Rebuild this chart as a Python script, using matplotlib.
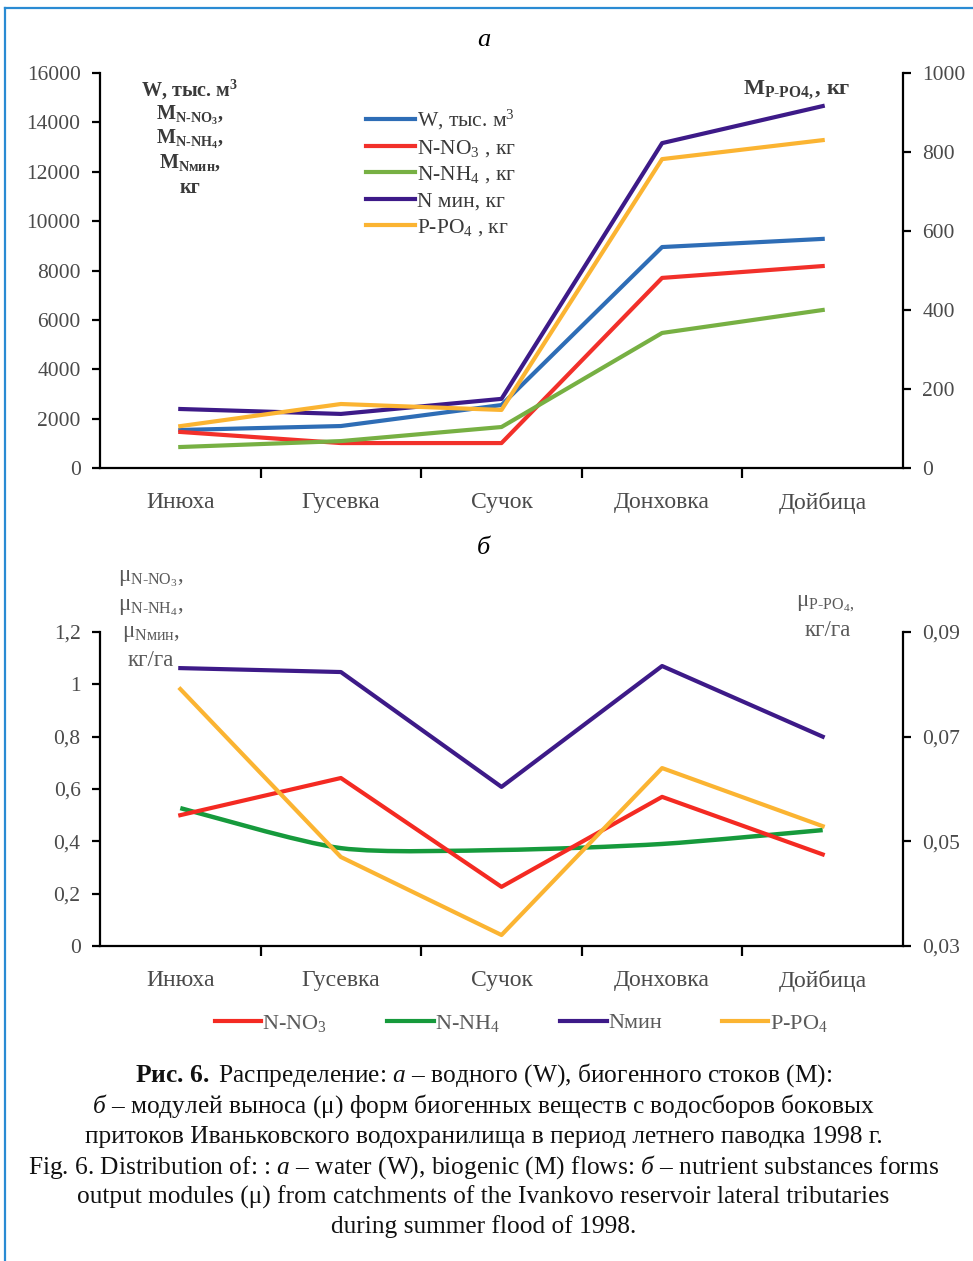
import matplotlib.pyplot as plt
import numpy as np
from matplotlib.lines import Line2D
from matplotlib.path import Path
from matplotlib.patches import PathPatch
from matplotlib.ticker import FuncFormatter

plt.rcParams['font.family'] = ['Liberation Serif', 'DejaVu Serif']
plt.rcParams['mathtext.fontset'] = 'custom'
plt.rcParams['mathtext.rm'] = 'Liberation Serif'
plt.rcParams['mathtext.it'] = 'Liberation Serif:italic'
plt.rcParams['mathtext.bf'] = 'Liberation Serif:bold'

rivers = ['Инюха', 'Гусевка', 'Сучок', 'Донховка', 'Дойбица']

# a: water flow (thous. m3) and nutrient flow (kg)
w_flow = [1540, 1700, 2550, 8950, 9280]
m_no3 = [1460, 1010, 1010, 7700, 8180]
m_nh4 = [850, 1090, 1660, 5470, 6400]
m_nmin = [2390, 2190, 2800, 13160, 14660]
m_po4 = [106, 162, 147, 782, 830]

# b: output modules (kg/ha)
mu_no3 = [0.50, 0.642, 0.226, 0.57, 0.35]
mu_nh4 = [0.527, 0.374, 0.367, 0.39, 0.443]
mu_nmin = [1.062, 1.047, 0.608, 1.07, 0.80]
mu_po4 = [0.0791, 0.0470, 0.0321, 0.0640, 0.0529]

ticks_a_left = [0, 2000, 4000, 6000, 8000, 10000, 12000, 14000, 16000]
ticks_a_right = [0, 200, 400, 600, 800, 1000]
ticks_b_left = [0, 0.2, 0.4, 0.6, 0.8, 1.0, 1.2]
ticks_b_right = [0.03, 0.05, 0.07, 0.09]

W, H = 973, 1261
def fx(px):
    return px / W
def fy(py):
    return 1 - py / H

TICKC = '#4a4a4a'
LABC = '#3a3a3a'
MUC = '#5a5a5a'
comma = FuncFormatter(lambda v, p: f'{v:g}'.replace('.', ','))

def style(ax, axr):
    for a in (ax, axr):
        a.spines['top'].set_visible(False)
        for s in a.spines.values():
            s.set_linewidth(1.6)
    ax.spines['right'].set_visible(False)
    axr.spines['left'].set_visible(False)
    axr.spines['bottom'].set_visible(False)
    x = np.arange(len(rivers))
    ax.set_xlim(-0.5, len(rivers) - 0.5)
    ax.set_xticks(x)
    ax.set_xticklabels(rivers, fontsize=17, color=TICKC)
    ax.set_xticks(x[:-1] + 0.5, minor=True)
    ax.tick_params(axis='x', which='major', length=0, pad=17)
    ax.tick_params(axis='x', which='minor', length=7, width=1.6, direction='out')
    ax.tick_params(axis='y', length=6, width=1.6, labelsize=15.5, labelcolor=TICKC, pad=8)
    axr.tick_params(axis='y', length=6, width=1.6, labelsize=15.5, labelcolor=TICKC, pad=8)

fig = plt.figure(figsize=(W / 100, H / 100), dpi=100)

# ---- chart a ----
ax1 = fig.add_axes([fx(100), fy(468), fx(903) - fx(100), fy(73) - fy(468)])
ax1r = ax1.twinx()
x = np.arange(len(rivers))
ax1.plot(x, w_flow, color='#2e6db6', lw=3, label='W, тыс. м$^3$')
ax1.plot(x, m_no3, color='#f2302a', lw=3, label='N-NO$_3$ , кг')
ax1.plot(x, m_nh4, color='#77b043', lw=3, label='N-NH$_4$ , кг')
ax1.plot(x, m_nmin, color='#3d1a88', lw=3, label='N мин, кг')
ax1r.plot(x, m_po4, color='#fbb432', lw=3, label='P-PO$_4$ , кг')
ax1.set_ylim(0, 16000)
ax1r.set_ylim(0, 1000)
ax1.set_yticks(ticks_a_left)
ax1r.set_yticks(ticks_a_right)
style(ax1, ax1r)

h1, l1 = ax1.get_legend_handles_labels()
h2, l2 = ax1r.get_legend_handles_labels()
fig.legend(h1 + h2, l1 + l2, loc='upper left', bbox_to_anchor=(fx(355), fy(97)),
           frameon=False, fontsize=15.5, handlelength=2.3, handletextpad=0.1,
           labelspacing=0.27, labelcolor=LABC, borderpad=0)

fig.text(0.497, fy(40), 'а', style='italic', fontsize=19, ha='center', va='center')
lab_a = [r'W, тыс. м$^\mathbf{3}$',
         r'$\mathbf{M}_{\mathbf{N\text{-}NO_3}}$,',
         r'$\mathbf{M}_{\mathbf{N\text{-}NH_4}}$,',
         r'$\mathbf{M}_{\mathbf{Nмин}}$,',
         'кг']
for s, py in zip(lab_a, [90, 115, 139, 163, 188]):
    fig.text(fx(190), fy(py), s, fontsize=14.5, fontweight='bold', color=LABC,
             ha='center', va='center')
fig.text(fx(797), fy(90), r'$\mathbf{M}_{\mathbf{P\text{-}PO4,}}$, кг', fontsize=16,
         fontweight='bold', color=LABC, ha='center', va='center')

# ---- chart b ----
ax2 = fig.add_axes([fx(100), fy(946), fx(903) - fx(100), fy(632) - fy(946)])
ax2r = ax2.twinx()
ax2.plot(x, mu_no3, color='#f42a22', lw=3)
ax2.plot(x, mu_nmin, color='#3d1a88', lw=3)

# smoothed line for N-NH4 (Catmull-Rom as cubic Bezier)
p = np.column_stack([x, mu_nh4]).astype(float)
pe = np.vstack([p[0], p, p[-1]])
verts = [p[0]]
codes = [Path.MOVETO]
for i in range(len(p) - 1):
    a0, a1, a2, a3 = pe[i], pe[i + 1], pe[i + 2], pe[i + 3]
    verts += [a1 + (a2 - a0) / 8, a2 - (a3 - a1) / 8, a2]
    codes += [Path.CURVE4] * 3
ax2.add_patch(PathPatch(Path(verts, codes), fill=False, edgecolor='#169a3c', lw=3.2))

ax2r.plot(x, mu_po4, color='#fbb432', lw=3)
ax2.set_ylim(0, 1.2)
ax2r.set_ylim(0.03, 0.09)
ax2.set_yticks(ticks_b_left)
ax2r.set_yticks(ticks_b_right)
ax2.yaxis.set_major_formatter(comma)
ax2r.yaxis.set_major_formatter(comma)
style(ax2, ax2r)

fig.text(0.497, fy(548), 'б', style='italic', fontsize=19, ha='center', va='center')
lab_b = [r'μ$_{\mathrm{N\text{-}NO_3}}$,',
         r'μ$_{\mathrm{N\text{-}NH_4}}$,',
         r'μ$_{\mathrm{Nмин}}$,',
         'кг/га']
for s, py in zip(lab_b, [579, 607, 634, 660]):
    fig.text(fx(151), fy(py), s, fontsize=16.5, color=MUC, ha='center', va='center')
fig.text(fx(825), fy(603), r'μ$_{\mathrm{P\text{-}PO_4,}}$', fontsize=16.5, color=MUC,
         ha='center', va='center')
fig.text(fx(828), fy(630), 'кг/га', fontsize=16.5, color=MUC, ha='center', va='center')

hb = [Line2D([], [], color='#f42a22', lw=3), Line2D([], [], color='#169a3c', lw=3),
      Line2D([], [], color='#3d1a88', lw=3), Line2D([], [], color='#fbb432', lw=3)]
fig.legend(hb, ['N-NO$_3$', 'N-NH$_4$', 'Nмин', 'P-PO$_4$'], loc='center',
           bbox_to_anchor=(fx(521), fy(1023)), ncol=4, frameon=False, fontsize=16,
           handlelength=2.1, handletextpad=0.05, columnspacing=2.7, labelcolor=MUC)

# ---- caption ----
cap = [r'$\mathbf{Рис.}\,\mathbf{6.}$ Распределение: $\mathit{а}$ – водного (W), биогенного стоков (M):',
       r'$\mathit{б}$ – модулей выноса (μ) форм биогенных веществ с водосборов боковых',
       'притоков Иваньковского водохранилища в период летнего паводка 1998 г.',
       r'Fig. 6. Distribution of: : $\mathit{а}$ – water (W), biogenic (M) flows: $\mathit{б}$ – nutrient substances forms',
       'output modules (μ) from catchments of the Ivankovo reservoir lateral tributaries',
       'during summer flood of 1998.']
for s, py in zip(cap, [1075, 1106, 1137, 1167, 1197, 1227]):
    fig.text(0.497, fy(py), s, fontsize=18.3, color='#111111', ha='center', va='center')

# page frame
fig.add_artist(Line2D([fx(5), 1], [fy(8), fy(8)], transform=fig.transFigure,
                      color='#2a8bd3', lw=1.6))
fig.add_artist(Line2D([fx(5), fx(5)], [0, fy(8)], transform=fig.transFigure,
                      color='#2a8bd3', lw=1.6))

fig.savefig('out.png', dpi=100)
